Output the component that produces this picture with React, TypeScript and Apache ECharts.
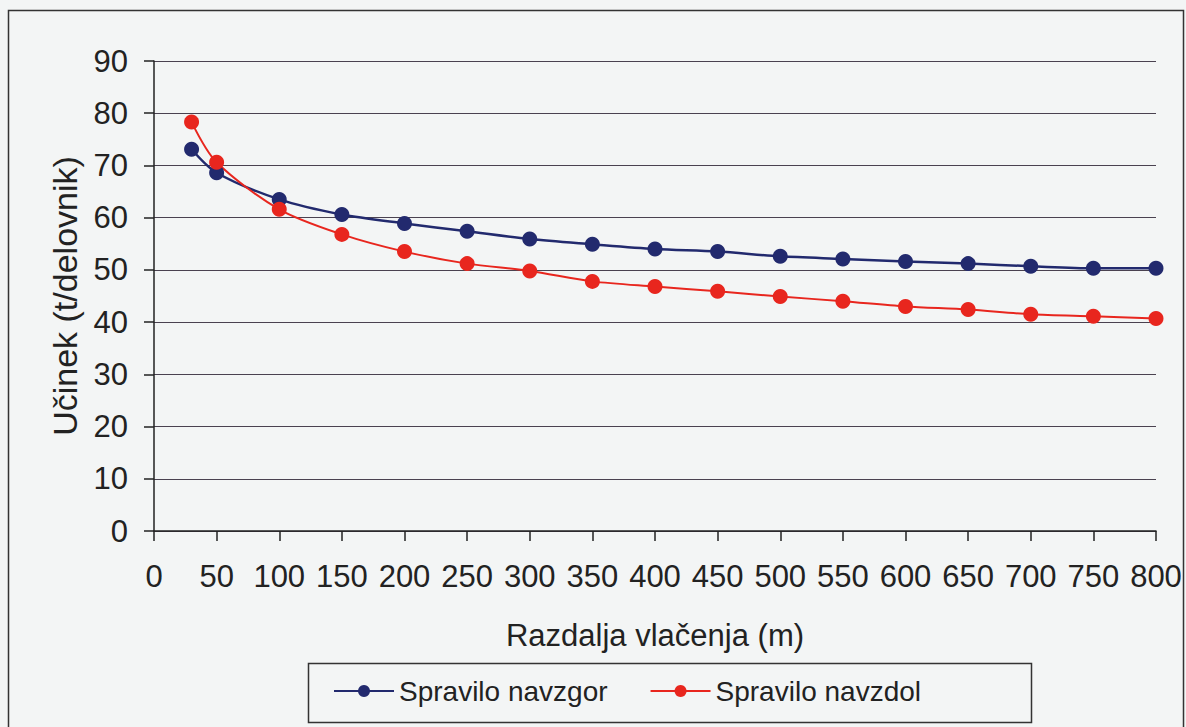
import React, { useEffect, useRef } from "react";
import * as echarts from "echarts";

const distances = [30, 50, 100, 150, 200, 250, 300, 350, 400, 450, 500, 550, 600, 650, 700, 750, 800];
const navzgor = [73.1, 68.6, 63.5, 60.6, 58.9, 57.4, 55.9, 54.9, 54.0, 53.5, 52.6, 52.1, 51.6, 51.2, 50.7, 50.3, 50.3];
const navzdol = [78.3, 70.6, 61.6, 56.8, 53.5, 51.2, 49.8, 47.8, 46.8, 45.9, 44.9, 44.0, 43.0, 42.4, 41.5, 41.1, 40.7];
const seriesNames = ["Spravilo navzgor", "Spravilo navzdol"];
const xAxisName = "Razdalja vlačenja (m)";
const yAxisName = "Učinek (t/delovnik)";

const FONT = "Liberation Sans, Arial, sans-serif";

export default function App() {
  const ref = useRef<HTMLDivElement>(null);
  useEffect(() => {
    if (!ref.current) return;
    const chart = echarts.init(ref.current, undefined, { renderer: "svg" });
    const toPairs = (ys: number[]) => distances.map((x, i) => [x, ys[i]]);
    chart.setOption({
      animation: false,
      backgroundColor: "#f3f5f5",
      textStyle: { fontFamily: FONT },
      graphic: [
        {
          type: "rect",
          shape: { x: 8.5, y: 10.5, width: 1175, height: 730 },
          style: { fill: "none", stroke: "#333", lineWidth: 1.5 },
          z: 0,
        },
        {
          type: "rect",
          shape: { x: 308.5, y: 663.5, width: 723, height: 59 },
          style: { fill: "none", stroke: "#333", lineWidth: 1.5 },
          z: 0,
        },
      ],
      grid: { left: 154, right: 30, top: 61, bottom: 196, containLabel: false },
      xAxis: {
        type: "value",
        min: 0,
        max: 800,
        interval: 50,
        name: xAxisName,
        nameLocation: "middle",
        nameGap: 89,
        nameTextStyle: { fontSize: 31, color: "#222", fontFamily: FONT },
        axisLine: { show: true, lineStyle: { color: "#222", width: 1.5 } },
        axisTick: { show: true, length: 10, inside: false, lineStyle: { color: "#222", width: 1.5 } },
        axisLabel: { fontSize: 31, color: "#222", margin: 30, fontFamily: FONT },
        splitLine: { show: false },
      },
      yAxis: {
        type: "value",
        min: 0,
        max: 90,
        interval: 10,
        name: yAxisName,
        nameLocation: "middle",
        nameGap: 72,
        nameRotate: 90,
        nameTextStyle: { fontSize: 34, color: "#222", fontFamily: FONT },
        axisLine: { show: true, lineStyle: { color: "#222", width: 1.5 } },
        axisTick: { show: true, length: 10, inside: false, lineStyle: { color: "#222", width: 1.5 } },
        axisLabel: { fontSize: 31, color: "#222", margin: 26, fontFamily: FONT },
        splitLine: { show: true, lineStyle: { color: "#4a4250", width: 1.2 } },
      },
      legend: {
        data: seriesNames,
        left: 333,
        top: 677,
        padding: 0,
        itemWidth: 60,
        itemHeight: 15,
        itemGap: 42,
        textStyle: { fontSize: 28, color: "#222", fontFamily: FONT },
      },
      series: [
        {
          name: seriesNames[0],
          type: "line",
          smooth: 0.3,
          data: toPairs(navzgor),
          symbol: "circle",
          symbolSize: 15,
          lineStyle: { color: "#222a6e", width: 2.5 },
          itemStyle: { color: "#222a6e" },
        },
        {
          name: seriesNames[1],
          type: "line",
          smooth: 0.3,
          data: toPairs(navzdol),
          symbol: "circle",
          symbolSize: 15,
          lineStyle: { color: "#e8261e", width: 2 },
          itemStyle: { color: "#e8261e" },
        },
      ],
    });
    return () => chart.dispose();
  }, []);
  return (
    <div
      ref={ref}
      style={{ position: "fixed", left: 0, top: 0, width: 1186, height: 727 }}
    />
  );
}
